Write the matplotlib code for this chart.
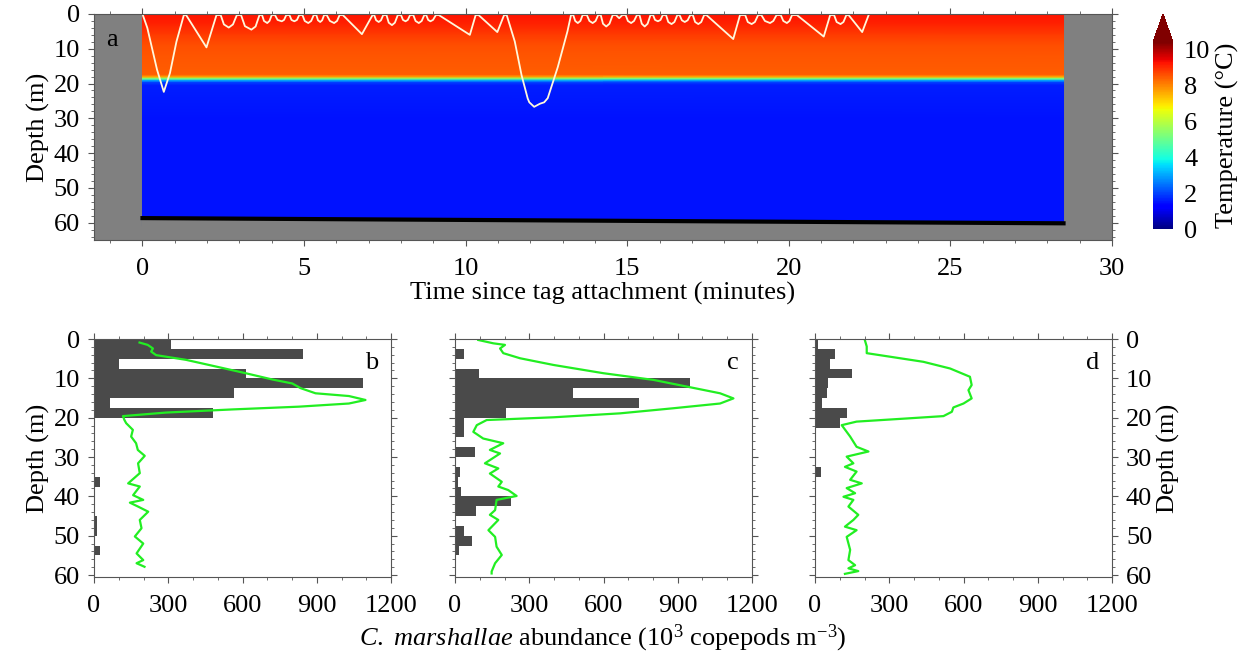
import numpy as np
import matplotlib
matplotlib.use("Agg")
import matplotlib.pyplot as plt
from matplotlib.ticker import MultipleLocator

plt.rcParams['font.family'] = ['Liberation Serif', 'DejaVu Serif']
plt.rcParams['mathtext.fontset'] = 'custom'
plt.rcParams['mathtext.rm'] = 'Liberation Serif'
plt.rcParams['mathtext.it'] = 'Liberation Serif:italic'
plt.rcParams['font.size'] = 19

# ---- panel a: dive trace over temperature section ----
dive_time = [0, 0.15, 0.45, 0.66, 0.85, 1.05, 1.28,
             1.35, 1.98, 2.29,
             2.42, 2.52, 2.67, 2.80, 2.92,
             3.05, 3.17, 3.37, 3.50, 3.62,
             3.70, 3.76, 3.86, 3.93, 4.00,
             4.10, 4.18, 4.31, 4.38, 4.45,
             4.55, 4.61, 4.70, 4.78, 4.85,
             4.95, 5.02, 5.13, 5.22, 5.30,
             5.38, 5.43, 5.50, 5.56, 5.62,
             5.70, 5.80, 5.93, 6.02, 6.10,
             6.20, 6.79, 7.12,
             7.17, 7.23, 7.31, 7.38, 7.45,
             7.55, 7.62, 7.72, 7.81, 7.90,
             8.00, 8.06, 8.14, 8.21, 8.28,
             8.38, 8.45, 8.55, 8.64, 8.72,
             8.78, 8.84, 8.91, 8.99, 9.08,
             9.17, 10.13, 10.31,
             10.40, 10.98, 11.19,
             11.27, 11.52, 11.73, 11.92, 11.97, 12.12, 12.30, 12.43, 12.54, 12.85, 13.15, 13.26,
             13.33, 13.39, 13.47, 13.55, 13.62,
             13.75, 13.83, 13.93, 14.02, 14.10,
             14.18, 14.25, 14.35, 14.45, 14.55,
             14.65, 14.75, 14.85,
             14.95, 15.02, 15.12, 15.21, 15.30,
             15.38, 15.45, 15.54, 15.63, 15.72,
             15.80, 15.86, 15.95, 16.03, 16.10,
             16.20, 16.27, 16.37, 16.46, 16.55,
             16.62, 16.69, 16.78, 16.87, 16.95,
             17.03, 17.10, 17.20, 17.29, 17.38,
             17.45, 18.28, 18.49,
             18.65, 18.73, 18.85, 18.95, 19.05,
             19.15, 19.26, 19.42, 19.52, 19.62,
             19.75, 19.83, 19.94, 20.02, 20.10,
             20.25, 21.08, 21.28,
             21.40, 21.48, 21.60, 21.69, 21.78,
             21.85, 22.27, 22.47]
dive_depth = [0, 4, 16, 22.4, 17, 8, 0.3,
              0.3, 9.6, 0.3,
              0.3, 3.0, 3.9, 3.0, 0.3,
              0.3, 3.5, 4.5, 3.6, 0.3,
              0.3, 2.0, 2.6, 2.0, 0.3,
              0.3, 1.7, 2.1, 1.7, 0.3,
              0.3, 1.7, 2.1, 1.7, 0.3,
              0.3, 2.0, 2.6, 2.0, 0.3,
              0.3, 1.8, 2.3, 1.8, 0.3,
              0.3, 2.0, 2.6, 2.0, 0.3,
              0.3, 5.8, 0.3,
              0.3, 1.8, 2.3, 1.8, 0.3,
              0.3, 2.5, 3.2, 2.5, 0.3,
              0.3, 1.7, 2.1, 1.7, 0.3,
              0.3, 2.0, 2.6, 2.0, 0.3,
              0.3, 1.7, 2.1, 1.7, 0.3,
              0.3, 6.0, 0.3,
              0.3, 5.2, 0.3,
              0.3, 7.9, 17.6, 24.3, 25.4, 26.7, 25.8, 25.4, 24.2, 15.3, 5.0, 0.3,
              0.3, 2.0, 2.6, 2.0, 0.3,
              0.3, 2.0, 2.6, 2.0, 0.3,
              0.3, 2.8, 3.6, 2.8, 0.3,
              0.3, 1.2, 0.3,
              0.3, 2.0, 2.6, 2.0, 0.3,
              0.3, 2.8, 3.6, 2.8, 0.3,
              0.3, 1.7, 2.1, 1.7, 0.3,
              0.3, 2.3, 2.9, 2.3, 0.3,
              0.3, 1.8, 2.3, 1.8, 0.3,
              0.3, 2.3, 2.9, 2.3, 0.3,
              0.3, 7.2, 0.3,
              0.3, 2.3, 2.9, 2.3, 0.3,
              0.3, 2.0, 2.6, 2.0, 0.3,
              0.3, 2.0, 2.6, 2.0, 0.3,
              0.3, 6.5, 0.3,
              0.3, 2.3, 2.9, 2.3, 0.3,
              0.3, 5.2, 0.3]

section_time = [0, 28.5]
prof_depth = [0, 3, 6, 9, 12, 17.5, 18.2, 18.7, 19.2, 19.7, 20.5, 30, 61]
prof_temp = [9.25, 9.1, 8.8, 8.6, 8.5, 8.45, 7.5, 5.0, 3.0, 2.0, 1.6, 1.5, 1.5]

seafloor_time = [0, 28.5]
seafloor_depth = [58.7, 60.2]

# ---- panels b-d: net tows (bars) and optical profiles (lines) ----
bin_top = np.arange(0, 60, 2.5)
bars_b = [310, 845, 103, 616, 1087, 566, 63, 479, 0, 0, 0, 0,
          0, 0, 25, 0, 0, 0, 12, 12, 0, 25, 0, 0]
bars_c = [0, 35, 0, 98, 950, 476, 744, 206, 36, 36, 0, 81,
          0, 20, 12, 25, 225, 84, 3, 36, 70, 15, 0, 0]
bars_d = [13, 81, 61, 148, 54, 50, 28, 131, 101, 0, 0, 0,
          0, 23, 0, 0, 0, 0, 0, 0, 0, 0, 0, 0]

line_b_depth = [0.9, 1.5, 2.4, 3.2, 4.1, 5.3, 7.0, 8.7, 10.3, 11.3, 12.5, 13.8, 14.5, 15.5,
                16.4, 17.2, 17.9, 18.7, 19.6, 20.6, 21.4, 23.1, 24.8, 26.5, 28.2, 29.7,
                31.6, 34.1, 36.7, 37.5, 39.7, 40.9, 41.6, 42.6, 43.9, 46.0, 48.1, 50.2,
                52.0, 54.5, 56.2, 57.0, 57.9]
line_b_val = [184, 217, 238, 231, 251, 372, 493, 613, 721, 801, 835, 895, 1030, 1097,
              1030, 828, 560, 291, 117, 123, 130, 157, 150, 170, 177, 205,
              178, 185, 138, 185, 158, 199, 145, 178, 219, 185, 192, 165,
              199, 172, 199, 172, 204]
line_c_depth = [0.25, 1.1, 1.5, 2.4, 3.6, 4.9, 6.6, 8.7, 10.4, 12.1, 13.8, 15.1, 16.4, 17.6,
                18.9, 19.9, 20.6, 21.9, 23.6, 25.3, 26.5, 28.2, 29.1, 31.6, 32.9, 34.2,
                36.3, 37.5, 38.4, 39.9, 40.9, 43.5, 44.7, 46.0, 48.6, 50.3, 52.8, 54.9,
                57.0, 59.1, 59.6]
line_c_val = [94, 155, 202, 182, 195, 263, 398, 600, 802, 937, 1071, 1125, 1071, 883,
              667, 398, 128, 88, 74, 114, 195, 141, 182, 121, 175, 141,
              189, 175, 215, 249, 168, 162, 141, 175, 135, 162, 168, 189,
              162, 148, 148]
line_d_depth = [0.4, 1.9, 3.6, 4.5, 5.8, 7.5, 9.6, 11.7, 13.0, 15.1, 16.4, 17.4, 18.5, 19.6,
                20.2, 21.0, 21.9, 24.8, 27.4, 28.6, 29.9, 31.6, 32.5, 33.7, 35.8, 36.7,
                37.9, 39.2, 40.1, 40.9, 42.6, 44.7, 46.0, 47.7, 48.6, 50.3, 53.6, 56.2,
                57.5, 58.3, 59.0, 59.7]
line_d_val = [202, 209, 209, 303, 438, 546, 626, 633, 620, 633, 600, 559, 553, 519,
              371, 168, 108, 142, 168, 216, 128, 155, 121, 168, 142, 189,
              128, 162, 115, 155, 135, 175, 155, 121, 168, 128, 142, 135,
              162, 135, 175, 121]

W, H = 1246, 654
fig = plt.figure(figsize=(W / 100, H / 100), dpi=100)
spine_col = '#555555'
grey = '#808080'

# panel a
ax = fig.add_axes([94 / W, 1 - 240 / H, 1018 / W, 226 / H])
ax.set_facecolor(grey)
X, Y = np.meshgrid(section_time, prof_depth)
C = np.tile(np.array(prof_temp)[:, None], (1, len(section_time)))
mesh = ax.pcolormesh(X, Y, C, shading='gouraud', cmap='jet', vmin=0, vmax=10.4)
ax.fill_between(seafloor_time, seafloor_depth, 65, facecolor=grey, edgecolor=grey, lw=2)
ax.plot(seafloor_time, seafloor_depth, color='black', lw=3)
ax.plot(dive_time, dive_depth, color='#fff8dc', lw=1.3)
ax.set_xlim(-1.5, 30)
ax.set_ylim(65, 0)
ax.xaxis.set_major_locator(MultipleLocator(5))
ax.xaxis.set_minor_locator(MultipleLocator(1))
ax.yaxis.set_major_locator(MultipleLocator(10))
ax.yaxis.set_minor_locator(MultipleLocator(2))
ax.tick_params(which='both', direction='out', top=True, right=True, color=spine_col)
ax.tick_params(which='major', length=4)
ax.tick_params(which='minor', length=2.5)
ax.tick_params(axis='x', pad=9)
ax.tick_params(axis='y', pad=6)
for s in ax.spines.values():
    s.set_color(spine_col)
    s.set_linewidth(0.8)
ax.set_xlabel('Time since tag attachment (minutes)', labelpad=1)
ax.set_ylabel('Depth (m)', labelpad=3)
ax.text(-0.95, 7.5, 'a', ha='center', va='center')

cax = fig.add_axes([1153 / W, 1 - 229 / H, 20 / W, 215 / H])
cb = fig.colorbar(mesh, cax=cax, extend='max', extendfrac=0.15)
cb.set_ticks([0, 2, 4, 6, 8, 10])
cb.outline.set_visible(False)
cax.tick_params(length=0, pad=8)
cb.set_label('Temperature (°C)', labelpad=4)

# panels b-d
panels = [
    ('b', 94, bars_b, line_b_depth, line_b_val),
    ('c', 455, bars_c, line_c_depth, line_c_val),
    ('d', 815, bars_d, line_d_depth, line_d_val),
]
for letter, left, bars, ld, lv in panels:
    ax = fig.add_axes([left / W, 1 - 577 / H, 297 / W, 238 / H])
    ax.barh(bin_top, bars, height=2.5, align='edge', color='#4a4a4a', lw=0)
    ax.plot(lv, ld, color='#22ee22', lw=1.6)
    ax.set_xlim(0, 1200)
    ax.set_ylim(60.5, 0)
    ax.xaxis.set_major_locator(MultipleLocator(300))
    ax.xaxis.set_minor_locator(MultipleLocator(100))
    ax.yaxis.set_major_locator(MultipleLocator(10))
    ax.yaxis.set_minor_locator(MultipleLocator(2))
    ax.tick_params(which='both', direction='out', top=True, right=True, color=spine_col)
    ax.tick_params(which='major', length=4)
    ax.tick_params(which='minor', length=2.5)
    ax.tick_params(axis='x', pad=9)
    ax.tick_params(axis='y', pad=6)
    for s in ax.spines.values():
        s.set_color(spine_col)
        s.set_linewidth(0.8)
    ax.text(1123, 6, letter, ha='center', va='center')
    if letter == 'b':
        ax.set_ylabel('Depth (m)', labelpad=3)
    elif letter == 'c':
        ax.tick_params(axis='y', labelleft=False)
    else:
        ax.tick_params(axis='y', labelleft=False, labelright=True)
        ax.yaxis.set_label_position('right')
        ax.set_ylabel('Depth (m)', labelpad=3)

fig.text(603 / W, 1 - 638 / H,
         r'$\it{C.\ marshallae}$ abundance (10$^3$ copepods m$^{-3}$)',
         ha='center', va='center')

fig.savefig('out.png', dpi=100)
